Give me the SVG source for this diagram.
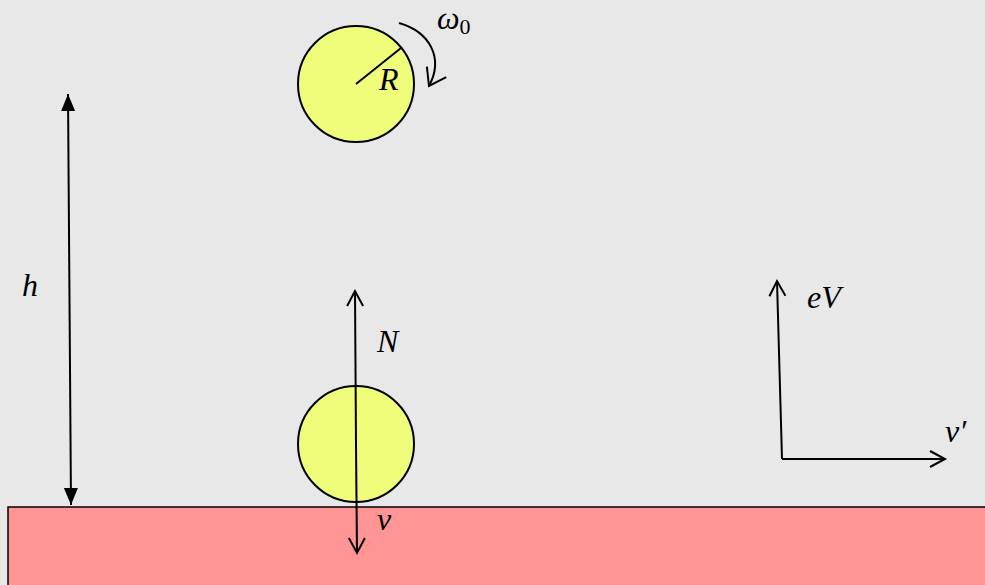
<svg xmlns="http://www.w3.org/2000/svg" width="985" height="585" viewBox="0 0 985 585">
<style>
.t{font-family:"Liberation Serif","DejaVu Serif",serif;font-style:italic;font-size:32px;fill:#000}
.ln{stroke:#000;stroke-width:2;fill:none}
.ball{fill:#f0fd7b;stroke:#000;stroke-width:2}
</style>
<defs>
<marker id="open" viewBox="0 0 20 20" refX="17" refY="10" markerWidth="20" markerHeight="20" markerUnits="userSpaceOnUse" orient="auto">
<path d="M2,2 L17,10 L2,18" fill="none" stroke="#000" stroke-width="2"/>
</marker>
<marker id="open2" viewBox="0 0 24 24" refX="20" refY="12" markerWidth="24" markerHeight="24" markerUnits="userSpaceOnUse" orient="auto">
<path d="M4,1 L20,12 L4,23" fill="none" stroke="#000" stroke-width="2"/>
</marker>
<marker id="fill" viewBox="0 0 20 20" refX="18" refY="10" markerWidth="20" markerHeight="20" markerUnits="userSpaceOnUse" orient="auto-start-reverse">
<path d="M1,3 L18,10 L1,17 Z" fill="#000"/>
</marker>
</defs>
<rect x="0" y="0" width="985" height="585" fill="#e8e8e8"/>
<g id="ground"><rect x="8" y="507" width="990" height="90" fill="#ff9494" stroke="#000" stroke-width="1.5"/></g>
<g id="ball-top">
<circle class="ball" cx="356" cy="84" r="58"/>
<line class="ln" x1="356" y1="84" x2="401" y2="48"/>
<text class="t" x="379" y="90">R</text>
</g>
<g id="ball-bottom"><circle class="ball" cx="356" cy="444" r="58"/></g>
<g id="connectors">
<path class="ln" d="M399,23 C430,32 444,58 429,86" marker-end="url(#open2)"/>
<line class="ln" x1="356" y1="444" x2="355" y2="291" marker-end="url(#open)"/>
<line class="ln" x1="356" y1="444" x2="357" y2="553" marker-end="url(#open)"/>
<line class="ln" x1="68" y1="94" x2="71" y2="505" marker-start="url(#fill)" marker-end="url(#fill)"/>
<line class="ln" x1="782" y1="459" x2="777" y2="281" marker-end="url(#open)"/>
<line class="ln" x1="782" y1="459" x2="945" y2="459" marker-end="url(#open)"/>
</g>
<g id="labels">
<text class="t" x="437" y="29">ω<tspan font-style="normal" font-size="22" dy="5">0</tspan></text>
<text class="t" x="22" y="296">h</text>
<text class="t" x="377" y="352">N</text>
<text class="t" x="377" y="530">v</text>
<text class="t" x="807" y="308">eV</text>
<text class="t" x="945" y="442">v′</text>
</g>
</svg>
